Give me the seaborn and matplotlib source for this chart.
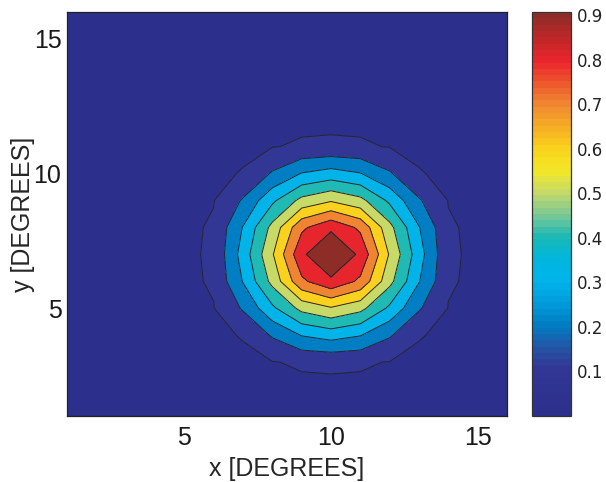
import numpy as np
import seaborn as sns
import matplotlib
matplotlib.use("Agg")
import matplotlib.pyplot as plt
from matplotlib.colors import LinearSegmentedColormap, Normalize
from matplotlib.cm import ScalarMappable

# grid in degrees (1..16 in both directions)
x_deg = np.arange(1, 17)
y_deg = np.arange(1, 17)

# values read off the picture around the peak at (10, 7); zero elsewhere
# rows: y = 3..11, columns: x = 6..14
peak_rows = [
    [0.0, 0.0, 0.008, 0.0155, 0.018, 0.0155, 0.008, 0.0, 0.0],
    [0.0, 0.013, 0.11, 0.205, 0.242, 0.205, 0.11, 0.013, 0.0],
    [0.008, 0.11, 0.28, 0.43, 0.49, 0.43, 0.28, 0.11, 0.008],
    [0.0155, 0.205, 0.43, 0.68, 0.78, 0.68, 0.43, 0.205, 0.0155],
    [0.018, 0.242, 0.49, 0.78, 0.907, 0.78, 0.49, 0.242, 0.018],
    [0.0155, 0.205, 0.43, 0.68, 0.78, 0.68, 0.43, 0.205, 0.0155],
    [0.008, 0.11, 0.28, 0.43, 0.49, 0.43, 0.28, 0.11, 0.008],
    [0.0, 0.013, 0.11, 0.205, 0.242, 0.205, 0.11, 0.013, 0.0],
    [0.0, 0.0, 0.008, 0.0155, 0.018, 0.0155, 0.008, 0.0, 0.0],
]
peak_x0, peak_y0 = 6, 3

line_levels = [0.01, 0.1, 0.2, 0.3, 0.4, 0.5, 0.6, 0.7, 0.8]
cbar_ticks = [0.1, 0.2, 0.3, 0.4, 0.5, 0.6, 0.7, 0.8, 0.9]
z_max = 0.907

z = np.zeros((len(y_deg), len(x_deg)))
block = np.array(peak_rows)
iy = peak_y0 - y_deg[0]
ix = peak_x0 - x_deg[0]
z[iy:iy + block.shape[0], ix:ix + block.shape[1]] = block

# jet-like colormap as printed in the original
anchors = [
    (0.00, (44, 47, 140)),
    (0.10, (50, 54, 148)),
    (0.15, (35, 85, 165)),
    (0.20, (0, 125, 195)),
    (0.25, (0, 155, 218)),
    (0.30, (0, 180, 235)),
    (0.35, (0, 182, 222)),
    (0.40, (25, 185, 182)),
    (0.45, (120, 200, 150)),
    (0.50, (195, 216, 108)),
    (0.55, (242, 232, 40)),
    (0.60, (250, 212, 28)),
    (0.65, (245, 175, 35)),
    (0.70, (240, 138, 50)),
    (0.75, (237, 90, 45)),
    (0.80, (235, 38, 45)),
    (0.85, (195, 38, 40)),
    (z_max, (142, 45, 40)),
]
cmap = LinearSegmentedColormap.from_list(
    "printed_jet",
    [(v / z_max, tuple(c / 255 for c in rgb)) for v, rgb in anchors],
    N=64,
)
norm = Normalize(0, z_max)

sns.set_style("white")
plt.rcParams["font.family"] = ["Liberation Sans", "DejaVu Sans"]

fig = plt.figure(figsize=(6.06, 4.82), dpi=100)
ax = fig.add_axes([0.1106, 0.137, 0.726, 0.838])
cax = fig.add_axes([0.878, 0.137, 0.064, 0.838])

fill_levels = [-0.01] + line_levels + [z_max + 0.01]
band_colors = [cmap(norm(u)) for u in line_levels] + [cmap(1.0)]
band_colors[0] = cmap(0.0)
ax.contourf(x_deg, y_deg, z, levels=fill_levels, colors=band_colors)
ax.contour(x_deg, y_deg, z, levels=line_levels, colors="#25252f", linewidths=0.7)

ax.set_xlim(1, 16)
ax.set_ylim(1, 16)
ax.set_xticks([5, 10, 15])
ax.set_yticks([5, 10, 15])
ax.tick_params(length=0, labelsize=18, pad=4, colors="#1a1a1a")
ax.tick_params(axis="x", pad=7)
ax.set_xlabel("x [DEGREES]", fontsize=18, labelpad=5)
ax.set_ylabel("y [DEGREES]", fontsize=18, labelpad=-1)
for s in ax.spines.values():
    s.set_color("#222222")
    s.set_linewidth(0.9)

cb = fig.colorbar(ScalarMappable(norm=norm, cmap=cmap), cax=cax, ticks=cbar_ticks)
cb.outline.set_edgecolor("#333333")
cb.outline.set_linewidth(0.9)
cax.yaxis.set_ticks_position("both")
cax.tick_params(direction="in", length=3, width=0.8, labelsize=12, pad=4,
                labelright=True, labelleft=False, colors="#222222")
for lab in cax.get_yticklabels():
    lab.set_family("DejaVu Sans")

fig.savefig("out.png", dpi=100)
